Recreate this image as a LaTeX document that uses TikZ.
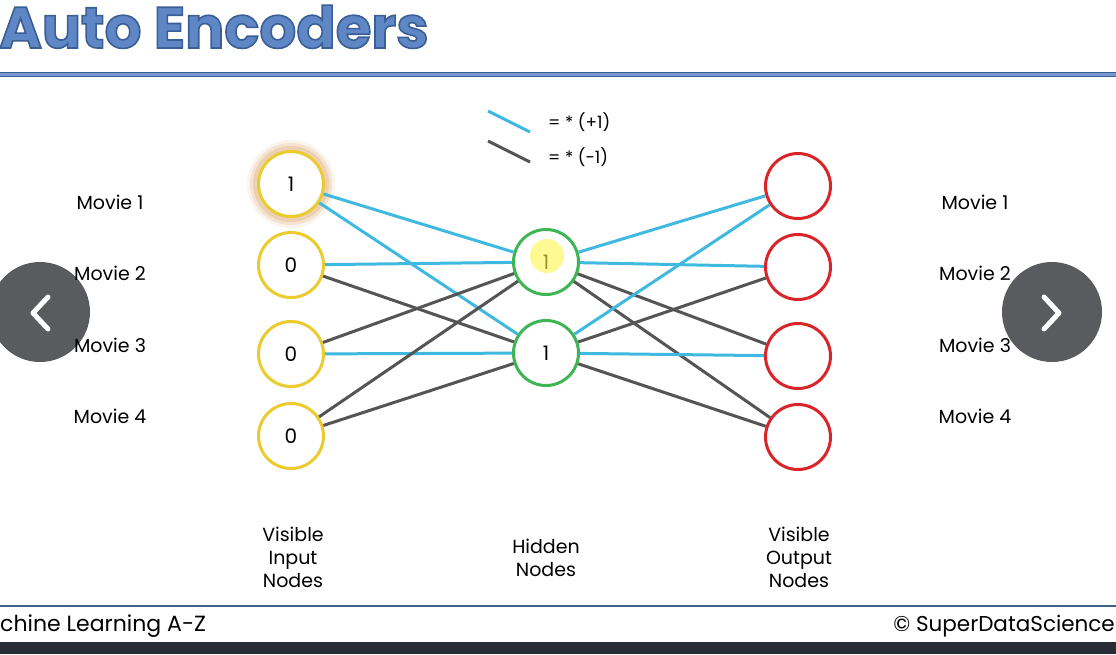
\documentclass[tikz,border=0pt]{standalone}
\usepackage{fontspec}
\setmainfont{Poppins}
\usetikzlibrary{positioning}
\definecolor{titleblue}{HTML}{5F87C6}
\definecolor{titleedge}{HTML}{3A5E96}
\definecolor{posblue}{HTML}{40B9E0}
\definecolor{neggray}{HTML}{555555}
\definecolor{inyellow}{HTML}{EBCB2D}
\definecolor{hidgreen}{HTML}{3DB553}
\definecolor{outred}{HTML}{D9252A}
\definecolor{navgray}{HTML}{5A5B5F}
\definecolor{footbar}{HTML}{272C37}
\definecolor{footline}{HTML}{3F5F8E}
\definecolor{glow}{HTML}{D99A55}
% outlined title text
\newcommand{\outlined}[1]{\special{pdf:literal direct 2 Tr 1.6 w 0.227 0.369 0.588 RG}#1\special{pdf:literal direct 0 Tr}}

\begin{document}
\begin{tikzpicture}[x=1pt,y=-1pt,
  unit/.style={circle,line width=3pt,minimum size=65pt,inner sep=0pt,fill=white,font=\fontsize{20}{20}\selectfont},
  visin/.style={unit,draw=inyellow},
  hid/.style={unit,draw=hidgreen},
  visout/.style={unit,draw=outred},
  poslink/.style={posblue,line width=3pt},
  neglink/.style={neggray,line width=3pt},
  txt/.style={font=\fontsize{19}{23}\selectfont,align=center,inner sep=0pt},
  titletext/.style={anchor=base west,inner sep=0pt,font=\fontsize{58}{58}\selectfont\bfseries},
  nav/.style={circle,fill=navgray,minimum size=100pt,inner sep=0pt},
  chevron/.style={white,line width=5pt,line cap=round,line join=round}]
\useasboundingbox (0,0) rectangle (1116,654);
\fill[white] (0,0) rectangle (1116,654);

% title and rules
\node (title) [titletext,text=titleblue] at (-1,48) {\outlined{Auto Encoders}};
\draw[titleedge,line width=5pt] (0,74.5) -- (1116,74.5);
\draw[titleblue!85!white,line width=2.5pt] (0,74.5) -- (1116,74.5);
\draw[footline,line width=2pt] (0,606) -- (1116,606);
\fill[footbar] (0,642) rectangle (1116,654);
\node (footl) [anchor=west,inner sep=0pt,font=\fontsize{22}{22}\selectfont] at (0,626) {chine Learning A-Z};
\node (footr) [anchor=east,inner sep=0pt,font=\fontsize{21.5}{22}\selectfont] at (1115,626) {© SuperDataScience};

% legend
\coordinate (lpa) at (488,111);
\coordinate (lpb) at (530,132);
\coordinate (lna) at (488,141);
\coordinate (lnb) at (530,162);
\draw[poslink] (lpa) -- (lpb);
\draw[neglink] (lna) -- (lnb);
\node (lpt) [anchor=west,txt,font=\fontsize{17}{17}\selectfont] at (548,122) {= * (+1)};
\node (lnt) [anchor=west,txt,font=\fontsize{17}{17}\selectfont] at (548,157) {= * (-1)};

% glow round the first input
\fill[glow,opacity=0.10] (291,184) circle (44);
\fill[glow,opacity=0.18] (291,184) circle (41);
\fill[glow,opacity=0.25] (291,184) circle (38);

% nodes
\node (in1) [visin] at (291,184) {1};
\node (in2) [visin] at (291,265) {0};
\node (in3) [visin] at (291,354) {0};
\node (in4) [visin] at (291,436) {0};
\node (hid1) [hid] at (546,262) {1};
\node (hid2) [hid] at (546,353) {1};
\node (out1) [visout] at (798,186) {};
\node (out2) [visout] at (798,267) {};
\node (out3) [visout] at (798,356) {};
\node (out4) [visout] at (798,437) {};
\fill[yellow!70!white,opacity=0.6] (547,256) circle (17);

% connections
\draw[poslink] (in1) -- (hid1);
\draw[poslink] (in1) -- (hid2);
\draw[poslink] (in2) -- (hid1);
\draw[neglink] (in2) -- (hid2);
\draw[neglink] (in3) -- (hid1);
\draw[poslink] (in3) -- (hid2);
\draw[neglink] (in4) -- (hid1);
\draw[neglink] (in4) -- (hid2);
\draw[poslink] (hid1) -- (out1);
\draw[poslink] (hid1) -- (out2);
\draw[neglink] (hid1) -- (out3);
\draw[neglink] (hid1) -- (out4);
\draw[poslink] (hid2) -- (out1);
\draw[neglink] (hid2) -- (out2);
\draw[poslink] (hid2) -- (out3);
\draw[neglink] (hid2) -- (out4);

% movie labels
\node (navl) [nav] at (40,312) {};
\draw[chevron] ([shift={(8,-15)}]navl.center) -- ([shift={(-7,1)}]navl.center) -- ([shift={(8,17)}]navl.center);
\node (ml1) [txt] at (110,202) {Movie 1};
\node (ml2) [txt] at (110,273) {Movie 2};
\node (ml3) [txt] at (110,345) {Movie 3};
\node (ml4) [txt] at (110,416) {Movie 4};
\node (mr1) [txt] at (975,202) {Movie 1};
\node (mr2) [txt] at (975,273) {Movie 2};
\node (mr3) [txt] at (975,345) {Movie 3};
\node (mr4) [txt] at (975,416) {Movie 4};
\node (navr) [nav] at (1052,312) {};
\draw[chevron] ([shift={(-8,-15)}]navr.center) -- ([shift={(7,1)}]navr.center) -- ([shift={(-8,17)}]navr.center);

% layer names
\node (inname) [txt] at (293,557) {Visible\\Input\\Nodes};
\node (hidname) [txt] at (546,558) {Hidden\\Nodes};
\node (outname) [txt] at (799,557) {Visible\\Output\\Nodes};
\end{tikzpicture}
\end{document}
